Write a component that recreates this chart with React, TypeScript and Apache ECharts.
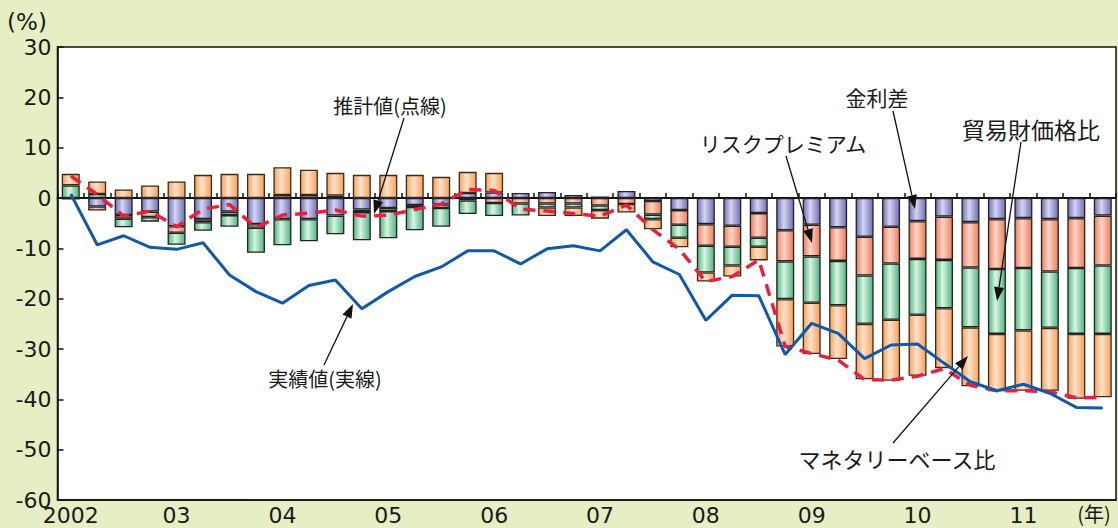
import React, { useEffect, useRef } from "react";
import * as echarts from "echarts";

// ---- data (quarterly, 2002Q1 - 2011Q4), % contributions ----
const yearLabels = ["2002", "03", "04", "05", "06", "07", "08", "09", "10", "11"];
const quarterNames = ["Q1", "Q2", "Q3", "Q4"];
const categories = yearLabels.flatMap((y) => quarterNames.map((q) => `${y}${q}`));

// 金利差
const interestDiff = [
  -0.3, -1.7, -3.4, -2.7, -5.6, -4.2, -2.7, -5.2, -4.2, -4.2,
  -3.5, -2.3, -2.0, -1.4, -1.3, 1.0, 1.1, 1.0, 1.2, 0.6,
  0.3, 1.4, -0.6, -2.4, -5.2, -5.5, -3.0, -6.4, -5.3, -5.8,
  -7.7, -5.7, -4.6, -3.7, -4.8, -4.2, -4.0, -4.2, -4.0, -3.5,
];
// リスクプレミアム
const riskPremium = [
  null, -0.8, -0.7, -1.1, -1.3, -0.6, -0.7, -0.7, 0.6, 0.6,
  0.5, -0.5, -0.6, -0.4, -0.7, -0.5, -1.0, -1.1, -1.1, -1.1,
  -1.5, -1.2, -2.7, -2.9, -4.3, -4.2, -4.9, -6.2, -6.3, -6.7,
  -7.7, -7.3, -7.5, -8.6, -9.0, -9.9, -9.9, -10.4, -9.9, -9.9,
];
// 貿易財価格比
const tradePrice = [
  2.5, 0.8, -1.7, -0.9, -2.4, -1.7, -2.3, -5.0, -5.2, -4.4,
  -3.7, -5.6, -5.4, -4.6, -3.7, -2.7, -2.6, -2.4, -0.8, -0.8,
  -0.9, null, -0.9, -2.6, -5.3, -3.7, -1.8, -7.5, -9.2, -8.8,
  -9.6, -11.2, -11.1, -9.6, -11.9, -12.9, -12.4, -11.2, -13.1, -13.6,
];
// マネタリーベース比
const monetaryBase = [
  2.3, 2.5, 1.7, 2.5, 3.3, 4.6, 4.8, 4.8, 5.5, 5.0,
  4.5, 4.6, 4.6, 4.6, 4.2, 4.2, 3.9, null, -1.7, -1.7,
  -1.7, -1.7, -2.0, -1.9, -1.8, -2.2, -2.7, -9.4, -10.2, -10.7,
  -11.0, -12.1, -12.1, -11.9, -11.7, -11.4, -12.0, -12.5, -12.9, -12.6,
];
// 推計値（点線）
const estimated = [
  4.4, 0.7, -3.6, -2.6, -5.7, -2.2, -1.3, -5.9, -3.4, -3.0,
  -2.4, -3.6, -3.4, -2.3, -1.2, 1.7, 1.5, -2.2, -2.6, -3.1,
  -3.6, -1.4, -6.3, -10.2, -16.6, -15.6, -12.3, -29.5, -30.9, -32.2,
  -36.1, -36.2, -35.4, -33.9, -37.2, -38.3, -38.3, -38.5, -39.7, -39.6,
];
// 実績値（実線）
const actual = [
  0.8, -9.3, -7.5, -9.8, -10.2, -8.9, -15.3, -18.6, -20.9, -17.4,
  -16.3, -22.0, -18.6, -15.6, -13.7, -10.5, -10.5, -13.1, -10.1, -9.5,
  -10.5, -6.3, -12.7, -15.2, -24.3, -19.3, -19.4, -31.1, -24.9, -26.9,
  -31.9, -29.2, -29.0, -32.8, -36.5, -38.3, -37.0, -38.8, -41.6, -41.7,
];

const Y_MIN = -60;
const Y_MAX = 30;
const Y_INTERVAL = 10;

const NUM_FONT = "DejaVu Sans";
const JP_FONT = "'Noto Sans CJK JP', 'Noto Sans', sans-serif";

function grad(edge: string, light: string) {
  return new echarts.graphic.LinearGradient(0, 0, 1, 0, [
    { offset: 0, color: edge },
    { offset: 0.42, color: light },
    { offset: 1, color: edge },
  ]);
}

function arrow(x1: number, y1: number, x2: number, y2: number) {
  const len = 14;
  const half = 5;
  const dx = x2 - x1;
  const dy = y2 - y1;
  const L = Math.hypot(dx, dy);
  const ux = dx / L;
  const uy = dy / L;
  const bx = x2 - ux * len;
  const by = y2 - uy * len;
  const px = -uy;
  const py = ux;
  return [
    {
      type: "line",
      shape: { x1, y1, x2: bx, y2: by },
      style: { stroke: "#111", lineWidth: 1.3 },
      z: 100,
    },
    {
      type: "polygon",
      shape: {
        points: [
          [x2, y2],
          [bx + px * half, by + py * half],
          [bx - px * half, by - py * half],
        ],
      },
      style: { fill: "#111" },
      z: 100,
    },
  ];
}

function label(text: string, x: number, y: number, size: number, family = JP_FONT) {
  return {
    type: "text",
    x,
    y,
    z: 100,
    style: {
      text,
      fill: "#1a1a1a",
      fontSize: size,
      fontFamily: family,
      align: "center",
      verticalAlign: "middle",
      textAlign: "center",
      textVerticalAlign: "middle",
    },
  };
}

export default function App() {
  const ref = useRef<HTMLDivElement>(null);

  useEffect(() => {
    if (!ref.current) return;
    const chart = echarts.init(ref.current, null, { renderer: "svg" });

    const barBase = {
      type: "bar",
      stack: "total",
      barWidth: 18,
      xAxisIndex: 0,
      yAxisIndex: 0,
    };

    const option: any = {
      animation: false,
      backgroundColor: "#e6eec4",
      grid: {
        left: 57.5,
        right: 2,
        top: 47,
        bottom: 28,
        show: true,
        backgroundColor: "#ffffff",
        borderColor: "#111",
        borderWidth: 1.5,
      },
      xAxis: [
        {
          type: "category",
          data: categories,
          position: "bottom",
          boundaryGap: true,
          axisLine: { show: true, onZero: false, lineStyle: { color: "#111", width: 1.5 } },
          axisTick: { show: false },
          splitLine: { show: false },
          axisLabel: {
            interval: 0,
            formatter: (_v: string, i: number) => (i % 4 === 0 ? yearLabels[i / 4] : ""),
            fontSize: 22,
            fontFamily: NUM_FONT,
            color: "#1a1a1a",
            margin: 4,
          },
        },
        {
          type: "category",
          data: categories,
          position: "bottom",
          boundaryGap: true,
          axisLine: { show: true, onZero: true, lineStyle: { color: "#111", width: 2 } },
          axisTick: { show: true, inside: true, length: 5, interval: 0, lineStyle: { color: "#111", width: 1.5 } },
          axisLabel: { show: false },
          splitLine: { show: false },
        },
      ],
      yAxis: {
        type: "value",
        min: Y_MIN,
        max: Y_MAX,
        interval: Y_INTERVAL,
        axisLine: { show: true, lineStyle: { color: "#111", width: 1.5 } },
        axisTick: { show: true, inside: true, length: 6, lineStyle: { color: "#111", width: 1.5 } },
        splitLine: { show: false },
        axisLabel: { fontSize: 22, fontFamily: NUM_FONT, color: "#1a1a1a", margin: 6 },
      },
      series: [
        {
          ...barBase,
          name: "金利差",
          data: interestDiff,
          itemStyle: { color: grad("#6f6fb6", "#d4d4f2"), borderColor: "#222", borderWidth: 1.3 },
        },
        {
          ...barBase,
          name: "リスクプレミアム",
          data: riskPremium,
          itemStyle: { color: grad("#ee7c5c", "#fdd6c6"), borderColor: "#222", borderWidth: 1.3 },
        },
        {
          ...barBase,
          name: "貿易財価格比",
          data: tradePrice,
          itemStyle: { color: grad("#4db47d", "#daf4e3"), borderColor: "#222", borderWidth: 1.3 },
        },
        {
          ...barBase,
          name: "マネタリーベース比",
          data: monetaryBase,
          itemStyle: { color: grad("#f8a05a", "#fee2cb"), borderColor: "#3a2a1a", borderWidth: 1.3 },
        },
        {
          type: "line",
          name: "推計値",
          data: estimated,
          symbol: "none",
          z: 5,
          lineStyle: { color: "#e8203f", width: 3.5, type: [12, 8] },
        },
        {
          type: "line",
          name: "実績値",
          data: actual,
          symbol: "none",
          z: 6,
          lineStyle: { color: "#1158a8", width: 3 },
        },
      ],
      graphic: [
        label("(%)", 27, 22, 23, NUM_FONT),
        label("(年)", 1094, 513, 20),
        label("推計値(点線)", 390, 105, 20),
        ...arrow(404, 118, 374, 214),
        label("実績値(実線)", 325, 378, 20),
        ...arrow(324, 365, 353, 304),
        label("金利差", 877, 97, 21),
        ...arrow(893, 111, 915, 209),
        label("リスクプレミアム", 783, 143, 21),
        ...arrow(786, 156, 812, 243),
        label("貿易財価格比", 1031, 129, 23),
        ...arrow(1021, 142, 997, 301),
        label("マネタリーベース比", 897, 458, 22),
        ...arrow(893, 443, 968, 356),
      ],
    };

    chart.setOption(option);
    return () => {
      chart.dispose();
    };
  }, []);

  return (
    <div
      ref={ref}
      style={{ position: "absolute", left: 0, top: 0, width: 1118, height: 528 }}
    />
  );
}
